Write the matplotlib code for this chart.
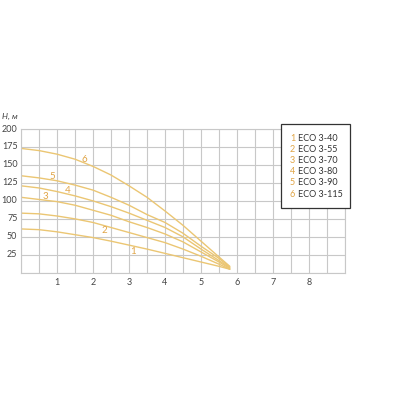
import matplotlib
matplotlib.use("Agg")
import matplotlib.pyplot as plt
from matplotlib.patches import Rectangle

plt.rcParams['font.family'] = ['Lato', 'DejaVu Sans']

# Data
flow = [0, 0.5, 1, 1.5, 2, 2.5, 3, 3.5, 4, 4.5, 5, 5.5, 5.8]
head_1 = [61, 60, 57, 53, 49, 44, 38.5, 33, 27, 21, 15, 9, 5]
head_2 = [83, 82, 79, 75, 70, 63, 56, 49, 42, 33, 23, 12, 5]
head_3 = [105, 102, 99, 94, 87, 80, 71, 63, 54, 43, 29, 15, 6]
head_4 = [121, 118, 113, 107, 100, 92, 83, 73, 63, 50, 33, 17, 7]
head_5 = [135, 132, 128, 122, 115, 105, 94, 81, 70, 55, 37, 20, 8]
head_6 = [173, 170, 165, 158, 148, 136, 121, 105, 86, 66, 44, 22, 9]
series = [head_1, head_2, head_3, head_4, head_5, head_6]
curve_numbers = ['1', '2', '3', '4', '5', '6']
models = ['ECO 3-40', 'ECO 3-55', 'ECO 3-70', 'ECO 3-80', 'ECO 3-90', 'ECO 3-115']
label_x = [3.1, 2.31, 0.685, 1.29, 0.87, 1.75]
label_y = [29.8, 58.5, 106.7, 115, 134.5, 157]
x_ticks = [1, 2, 3, 4, 5, 6, 7, 8]
y_ticks = [25, 50, 75, 100, 125, 150, 175, 200]

line_color = '#EBC673'
num_color = '#E0A445'
grid_color = '#C8C8C8'
text_color = '#444444'

fig = plt.figure(figsize=(4, 4), dpi=100)
ax = fig.add_axes([0.0525, 0.318, 0.81, 0.3595])

for ys in series:
    ax.plot(flow, ys, color=line_color, lw=1.0, solid_capstyle='round')
for n, lx, ly in zip(curve_numbers, label_x, label_y):
    ax.text(lx, ly, n, color=num_color, fontsize=7, ha='center', va='center')

ax.set_xlim(0, 9)
ax.set_ylim(0, 200)
ax.set_xticks([i * 0.5 for i in range(19)], minor=False)
ax.set_xticklabels([])
ax.set_yticks([i * 25 for i in range(9)])
ax.set_yticklabels([])
ax.grid(True, which='major', color=grid_color, lw=0.8)
ax.tick_params(length=0, which='both')
for s in ax.spines.values():
    s.set_color(grid_color)
    s.set_linewidth(0.8)
for t in x_ticks:
    ax.text(t, -7, str(t), ha='center', va='top', fontsize=6.5, color=text_color)
for t in y_ticks:
    ax.text(-0.1, t, str(t), ha='right', va='center', fontsize=6.5, color=text_color)

fig.text(0.005, 0.71, 'H, м', fontsize=6, style='italic', color=text_color, ha='left', va='center')

# Legend box
fig.patches.append(Rectangle((0.7025, 0.48), 0.1725, 0.21, transform=fig.transFigure,
                             facecolor='white', edgecolor='#333333', lw=0.9, zorder=5))
for i, (n, m) in enumerate(zip(curve_numbers, models)):
    yy = 1 - (138.3 + i * 11.15) / 400
    fig.text(0.731, yy, n, color=num_color, fontsize=6.5, ha='center', va='center', zorder=6)
    fig.text(0.745, yy, m, color='#333333', fontsize=6.5, ha='left', va='center', zorder=6)

fig.savefig('out.png', dpi=100)
